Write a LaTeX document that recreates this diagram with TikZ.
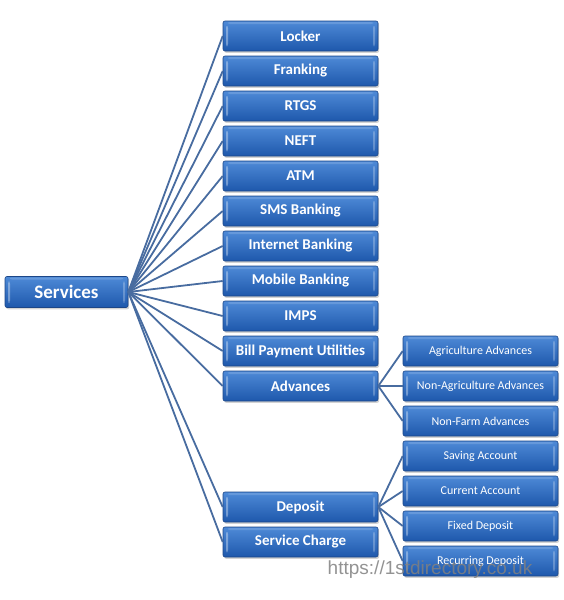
\documentclass[tikz,border=0pt]{standalone}
\usepackage{fontspec}
\setmainfont{Carlito}
\newfontfamily\wmfont{Liberation Sans}
\usetikzlibrary{shadows}
\definecolor{boxtop}{RGB}{78,138,215}
\definecolor{boxbot}{RGB}{30,88,172}
\definecolor{boxline}{RGB}{28,70,135}
\definecolor{connc}{RGB}{72,108,160}
\tikzset{
  box/.style={draw=boxline, line width=0.6pt, rounded corners=2pt,
    top color=boxtop, bottom color=boxbot, text=white,
    minimum height=30pt, inner sep=1pt,
    drop shadow={shadow xshift=1.2pt, shadow yshift=-1.8pt, opacity=0.35},
    path picture={
      \fill[white, opacity=0.35] ([xshift=3pt,yshift=-5pt]path picture bounding box.north west) rectangle ([xshift=5pt,yshift=5pt]path picture bounding box.south west);
      \fill[white, opacity=0.25] ([xshift=-5pt,yshift=-5pt]path picture bounding box.north east) rectangle ([xshift=-3pt,yshift=5pt]path picture bounding box.south east);
      \fill[white, opacity=0.15] ([xshift=5pt,yshift=-1pt]path picture bounding box.north west) rectangle ([xshift=-5pt,yshift=-3pt]path picture bounding box.north east);
    }},
  midbox/.style={box, minimum width=155pt, font=\fontsize{15}{17}\selectfont\bfseries},
  subbox/.style={box, minimum width=155pt, font=\fontsize{12}{14}\selectfont},
  rootbox/.style={box, minimum width=123pt, minimum height=31pt, font=\fontsize{19}{21}\selectfont\bfseries},
  conn/.style={draw=connc, line width=1.8pt},
}
\begin{document}
\begin{tikzpicture}[x=1pt,y=-1pt]
\useasboundingbox (0,0) rectangle (564,600);
\node[rootbox] (services) at (66.5,292) {Services};
\node[midbox] (locker) at (300.5,36) {Locker};
\node[midbox] (franking) at (300.5,71) {Franking};
\node[midbox] (rtgs) at (300.5,106) {RTGS};
\node[midbox] (neft) at (300.5,141) {NEFT};
\node[midbox] (atm) at (300.5,176) {ATM};
\node[midbox] (sms) at (300.5,211) {SMS Banking};
\node[midbox] (internet) at (300.5,246) {Internet Banking};
\node[midbox] (mobile) at (300.5,281) {Mobile Banking};
\node[midbox] (imps) at (300.5,316) {IMPS};
\node[midbox] (bill) at (300.5,351) {Bill Payment Utilities};
\node[midbox] (advances) at (300.5,386) {Advances};
\node[midbox] (deposit) at (300.5,507) {Deposit};
\node[midbox] (charge) at (300.5,542) {Service Charge};
\node[subbox] (agri) at (480.5,351) {Agriculture Advances};
\node[subbox] (nonagri) at (480.5,386) {Non-Agriculture Advances};
\node[subbox] (nonfarm) at (480.5,421) {Non-Farm Advances};
\node[subbox] (saving) at (480.5,456) {Saving Account};
\node[subbox] (current) at (480.5,491) {Current Account};
\node[subbox] (fixed) at (480.5,526) {Fixed Deposit};
\node[subbox] (recurring) at (480.5,561) {Recurring Deposit};
\foreach \n in {locker,franking,rtgs,neft,atm,sms,internet,mobile,imps,bill,advances,deposit,charge}
  \draw[conn] (services.east) -- (\n.west);
\foreach \n in {agri,nonagri,nonfarm}
  \draw[conn] (advances.east) -- (\n.west);
\foreach \n in {saving,current,fixed,recurring}
  \draw[conn] (deposit.east) -- (\n.west);
\node[font=\wmfont\fontsize{19}{21}\selectfont, text=gray, opacity=0.85] (wm) at (430,570) {https://1stdirectory.co.uk};
\end{tikzpicture}
\end{document}
